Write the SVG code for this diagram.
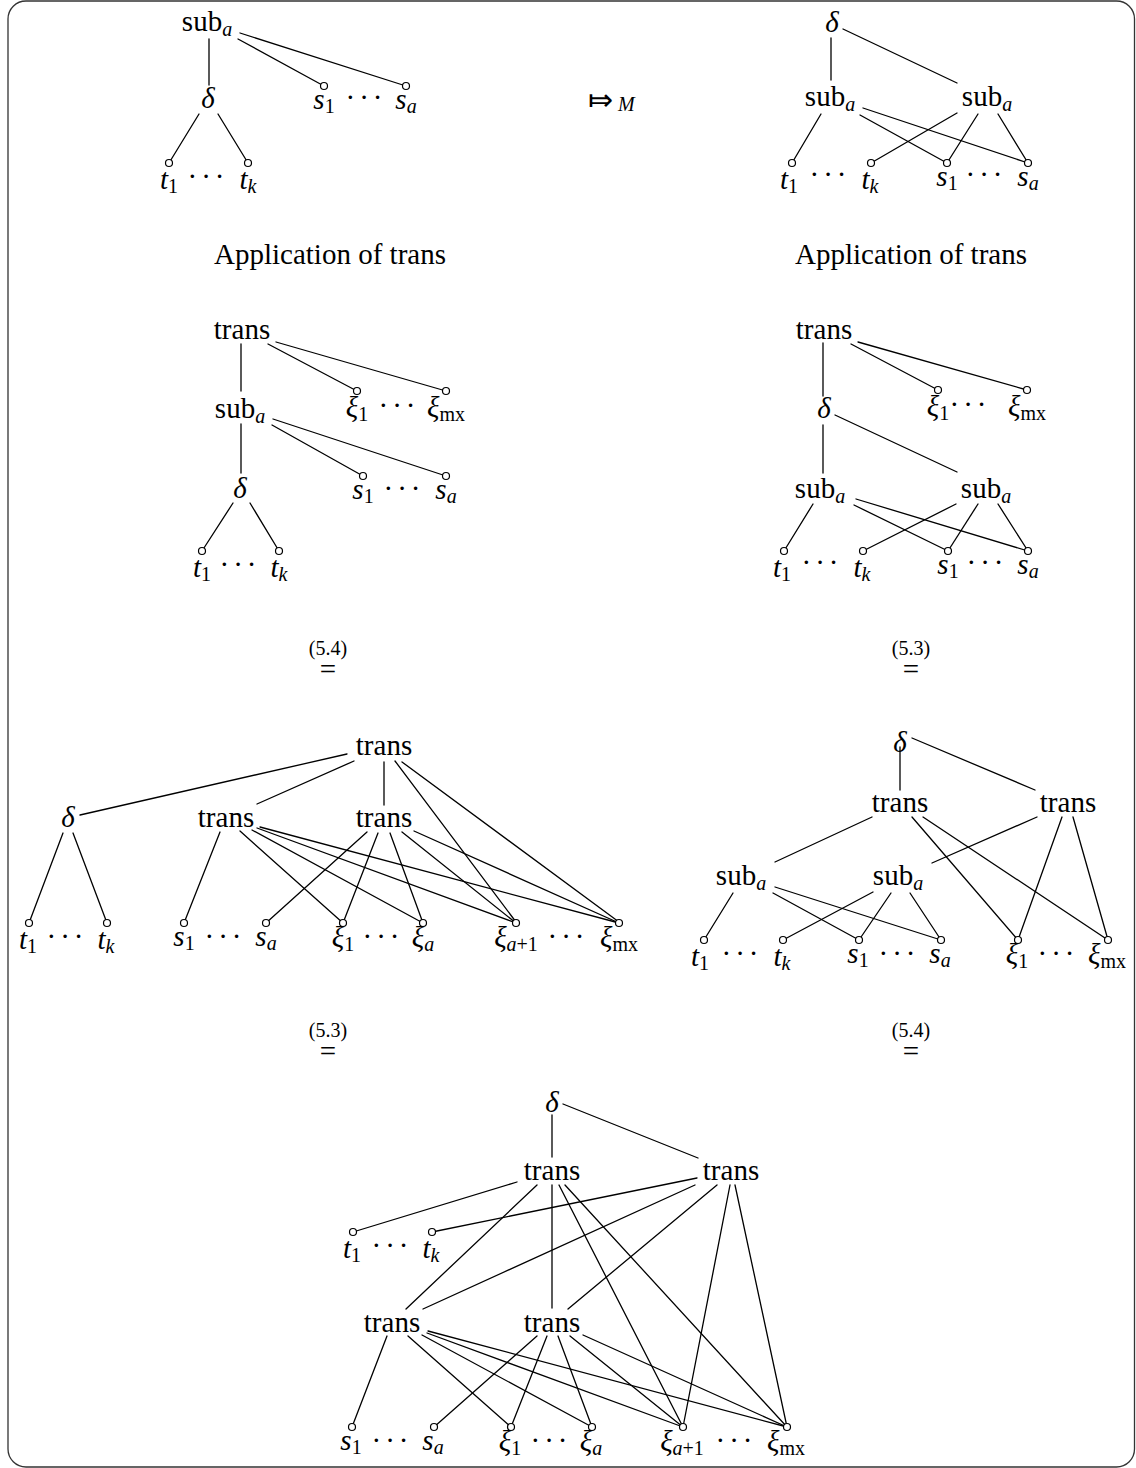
<svg xmlns="http://www.w3.org/2000/svg" width="1136" height="1468" viewBox="0 0 1136 1468">
<style>
.ln{stroke:#000;stroke-width:1.3;fill:none;stroke-linecap:round}
.lf{fill:#fff;stroke:#000;stroke-width:1.2}
text{font-family:"Liberation Serif",serif;font-size:29px;fill:#000}
.m{text-anchor:middle}
.i{font-style:italic}
.s{font-size:20px}
.d{text-anchor:middle;letter-spacing:4px}
.ref{font-size:20px;text-anchor:middle}
</style>
<rect x="8" y="1" width="1126.5" height="1466" rx="18" fill="#fff" stroke="#333" stroke-width="1.3"/>

<g id="connectors">
<!-- tree 1 -->
<line class="ln" x1="209" y1="39" x2="209" y2="85"/>
<line class="ln" x1="238" y1="39" x2="324" y2="86"/>
<line class="ln" x1="240" y1="33" x2="406" y2="86"/>
<line class="ln" x1="199" y1="114" x2="169" y2="163"/>
<line class="ln" x1="218" y1="114" x2="248" y2="163"/>
<!-- tree 2 -->
<line class="ln" x1="831" y1="38" x2="831" y2="80"/>
<line class="ln" x1="843" y1="29" x2="957" y2="83"/>
<line class="ln" x1="821" y1="114" x2="792" y2="163"/>
<line class="ln" x1="860" y1="115" x2="947" y2="163"/>
<line class="ln" x1="863" y1="108" x2="1028" y2="163"/>
<line class="ln" x1="957" y1="113" x2="871" y2="163"/>
<line class="ln" x1="978" y1="114" x2="947" y2="163"/>
<line class="ln" x1="998" y1="114" x2="1028" y2="163"/>
<!-- tree 3 -->
<line class="ln" x1="241" y1="344" x2="241" y2="391"/>
<line class="ln" x1="268" y1="344" x2="357" y2="391"/>
<line class="ln" x1="276" y1="342" x2="446" y2="391"/>
<line class="ln" x1="241" y1="424" x2="241" y2="473"/>
<line class="ln" x1="272" y1="425" x2="363" y2="476"/>
<line class="ln" x1="273" y1="419" x2="446" y2="476"/>
<line class="ln" x1="233" y1="503" x2="202" y2="551"/>
<line class="ln" x1="250" y1="503" x2="279" y2="551"/>
<!-- tree 4 -->
<line class="ln" x1="823" y1="343" x2="823" y2="396"/>
<line class="ln" x1="851" y1="344" x2="938" y2="390"/>
<line class="ln" x1="858" y1="342" x2="1027" y2="390"/>
<line class="ln" x1="823" y1="425" x2="823" y2="473"/>
<line class="ln" x1="835" y1="415" x2="957" y2="472"/>
<line class="ln" x1="813" y1="504" x2="784" y2="551"/>
<line class="ln" x1="854" y1="505" x2="948" y2="551"/>
<line class="ln" x1="856" y1="499" x2="1028" y2="551"/>
<line class="ln" x1="956" y1="504" x2="863" y2="551"/>
<line class="ln" x1="978" y1="504" x2="948" y2="551"/>
<line class="ln" x1="998" y1="504" x2="1028" y2="551"/>
<!-- tree 5 bottom-left -->
<line class="ln" x1="347" y1="754" x2="80" y2="815"/>
<line class="ln" x1="354" y1="761" x2="257" y2="804"/>
<line class="ln" x1="384" y1="762" x2="384" y2="805"/>
<line class="ln" x1="395" y1="761" x2="516" y2="922"/>
<line class="ln" x1="402" y1="762" x2="619" y2="922"/>
<line class="ln" x1="63" y1="833" x2="29" y2="923"/>
<line class="ln" x1="73" y1="833" x2="107" y2="923"/>
<line class="ln" x1="220" y1="832" x2="184" y2="923"/>
<line class="ln" x1="240" y1="831" x2="343" y2="923"/>
<line class="ln" x1="252" y1="830" x2="423" y2="923"/>
<line class="ln" x1="257" y1="828" x2="516" y2="923"/>
<line class="ln" x1="260" y1="827" x2="619" y2="923"/>
<line class="ln" x1="367" y1="832" x2="266" y2="923"/>
<line class="ln" x1="378" y1="833" x2="343" y2="923"/>
<line class="ln" x1="390" y1="833" x2="423" y2="923"/>
<line class="ln" x1="402" y1="832" x2="516" y2="923"/>
<line class="ln" x1="414" y1="831" x2="619" y2="923"/>
<!-- tree 6 bottom-right -->
<line class="ln" x1="900" y1="747" x2="900" y2="790"/>
<line class="ln" x1="912" y1="738" x2="1035" y2="790"/>
<line class="ln" x1="872" y1="817" x2="775" y2="862"/>
<line class="ln" x1="912" y1="817" x2="1018" y2="940"/>
<line class="ln" x1="923" y1="817" x2="1108" y2="940"/>
<line class="ln" x1="1037" y1="817" x2="932" y2="863"/>
<line class="ln" x1="1062" y1="817" x2="1018" y2="940"/>
<line class="ln" x1="1073" y1="817" x2="1108" y2="940"/>
<line class="ln" x1="733" y1="893" x2="704" y2="940"/>
<line class="ln" x1="773" y1="893" x2="859" y2="940"/>
<line class="ln" x1="775" y1="887" x2="941" y2="940"/>
<line class="ln" x1="873" y1="892" x2="783" y2="940"/>
<line class="ln" x1="891" y1="893" x2="859" y2="940"/>
<line class="ln" x1="910" y1="893" x2="941" y2="940"/>
<!-- tree 7 bottom -->
<line class="ln" x1="552" y1="1115" x2="552" y2="1157"/>
<line class="ln" x1="563" y1="1104" x2="698" y2="1158"/>
<line class="ln" x1="517" y1="1182" x2="353" y2="1232"/>
<line class="ln" x1="697" y1="1178" x2="432" y2="1232"/>
<line class="ln" x1="537" y1="1185" x2="406" y2="1309"/>
<line class="ln" x1="552" y1="1185" x2="552" y2="1308"/>
<line class="ln" x1="695" y1="1185" x2="423" y2="1309"/>
<line class="ln" x1="717" y1="1185" x2="568" y2="1309"/>
<line class="ln" x1="559" y1="1185" x2="683" y2="1427"/>
<line class="ln" x1="565" y1="1185" x2="787" y2="1427"/>
<line class="ln" x1="730" y1="1185" x2="683" y2="1427"/>
<line class="ln" x1="735" y1="1185" x2="787" y2="1427"/>
<line class="ln" x1="387" y1="1336" x2="352" y2="1427"/>
<line class="ln" x1="408" y1="1336" x2="511" y2="1427"/>
<line class="ln" x1="422" y1="1335" x2="592" y2="1427"/>
<line class="ln" x1="427" y1="1333" x2="683" y2="1427"/>
<line class="ln" x1="428" y1="1331" x2="787" y2="1427"/>
<line class="ln" x1="537" y1="1336" x2="434" y2="1427"/>
<line class="ln" x1="547" y1="1336" x2="511" y2="1427"/>
<line class="ln" x1="558" y1="1336" x2="592" y2="1427"/>
<line class="ln" x1="570" y1="1336" x2="683" y2="1427"/>
<line class="ln" x1="583" y1="1335" x2="787" y2="1427"/>
</g>

<!-- ===== Tree 1 ===== -->
<g id="t1-sub"><text class="m" x="207" y="31">sub<tspan class="s i" dy="5">a</tspan></text></g>
<g id="t1-delta"><text class="m i" x="208" y="108">δ</text></g>
<g id="t1-leaf-t1"><circle class="lf" cx="169" cy="163" r="3.5"/><text class="m" x="169" y="189"><tspan class="i">t</tspan><tspan class="s" dy="4">1</tspan></text></g>
<g id="t1-leaf-tk"><circle class="lf" cx="248" cy="163" r="3.5"/><text class="m" x="248" y="189"><tspan class="i">t</tspan><tspan class="s i" dy="4">k</tspan></text></g>
<g id="t1-leaf-s1"><circle class="lf" cx="324" cy="86" r="3.5"/><text class="m" x="324" y="109"><tspan class="i">s</tspan><tspan class="s" dy="4">1</tspan></text></g>
<g id="t1-leaf-sa"><circle class="lf" cx="406" cy="86" r="3.5"/><text class="m" x="406" y="109"><tspan class="i">s</tspan><tspan class="s i" dy="4">a</tspan></text></g>
<text class="d" x="208" y="186">···</text>
<text class="d" x="366" y="107">···</text>

<!-- arrow -->
<g id="arrow"><text x="588" y="110" style="font-family:'DejaVu Sans',sans-serif;font-size:30px">⤇</text><text class="s i" x="618" y="111">M</text></g>

<!-- ===== Tree 2 ===== -->
<g id="t2-delta"><text class="m i" x="832" y="32">δ</text></g>
<g id="t2-sub-l"><text class="m" x="830" y="106">sub<tspan class="s i" dy="5">a</tspan></text></g>
<g id="t2-sub-r"><text class="m" x="987" y="106">sub<tspan class="s i" dy="5">a</tspan></text></g>
<g id="t2-leaf-t1"><circle class="lf" cx="792" cy="163" r="3.5"/><text class="m" x="789" y="189"><tspan class="i">t</tspan><tspan class="s" dy="4">1</tspan></text></g>
<g id="t2-leaf-tk"><circle class="lf" cx="871" cy="163" r="3.5"/><text class="m" x="870" y="189"><tspan class="i">t</tspan><tspan class="s i" dy="4">k</tspan></text></g>
<g id="t2-leaf-s1"><circle class="lf" cx="947" cy="163" r="3.5"/><text class="m" x="947" y="186"><tspan class="i">s</tspan><tspan class="s" dy="4">1</tspan></text></g>
<g id="t2-leaf-sa"><circle class="lf" cx="1028" cy="163" r="3.5"/><text class="m" x="1028" y="186"><tspan class="i">s</tspan><tspan class="s i" dy="4">a</tspan></text></g>
<text class="d" x="830" y="184">···</text>
<text class="d" x="986" y="184">···</text>

<g id="cap-l"><text class="m" x="330" y="264">Application of trans</text></g>
<g id="cap-r"><text class="m" x="911" y="264">Application of trans</text></g>

<!-- ===== Tree 3 ===== -->
<g id="t3-trans"><text class="m" x="242" y="339">trans</text></g>
<g id="t3-sub"><text class="m" x="240" y="418">sub<tspan class="s i" dy="5">a</tspan></text></g>
<g id="t3-delta"><text class="m i" x="240" y="498">δ</text></g>
<g id="t3-leaf-x1"><circle class="lf" cx="357" cy="391" r="3.5"/><text class="m" x="357" y="417"><tspan class="i">ξ</tspan><tspan class="s" dy="4">1</tspan></text></g>
<g id="t3-leaf-xmx"><circle class="lf" cx="446" cy="391" r="3.5"/><text class="m" x="446" y="417"><tspan class="i">ξ</tspan><tspan class="s" dy="4">mx</tspan></text></g>
<g id="t3-leaf-s1"><circle class="lf" cx="363" cy="476" r="3.5"/><text class="m" x="363" y="499"><tspan class="i">s</tspan><tspan class="s" dy="4">1</tspan></text></g>
<g id="t3-leaf-sa"><circle class="lf" cx="446" cy="476" r="3.5"/><text class="m" x="446" y="499"><tspan class="i">s</tspan><tspan class="s i" dy="4">a</tspan></text></g>
<g id="t3-leaf-t1"><circle class="lf" cx="202" cy="551" r="3.5"/><text class="m" x="202" y="577"><tspan class="i">t</tspan><tspan class="s" dy="4">1</tspan></text></g>
<g id="t3-leaf-tk"><circle class="lf" cx="279" cy="551" r="3.5"/><text class="m" x="279" y="577"><tspan class="i">t</tspan><tspan class="s i" dy="4">k</tspan></text></g>
<text class="d" x="399" y="415">···</text>
<text class="d" x="404" y="498">···</text>
<text class="d" x="240" y="574">···</text>

<!-- ===== Tree 4 ===== -->
<g id="t4-trans"><text class="m" x="824" y="339">trans</text></g>
<g id="t4-delta"><text class="m i" x="824" y="418">δ</text></g>
<g id="t4-sub-l"><text class="m" x="820" y="498">sub<tspan class="s i" dy="5">a</tspan></text></g>
<g id="t4-sub-r"><text class="m" x="986" y="498">sub<tspan class="s i" dy="5">a</tspan></text></g>
<g id="t4-leaf-x1"><circle class="lf" cx="938" cy="390" r="3.5"/><text class="m" x="938" y="416"><tspan class="i">ξ</tspan><tspan class="s" dy="4">1</tspan></text></g>
<g id="t4-leaf-xmx"><circle class="lf" cx="1027" cy="390" r="3.5"/><text class="m" x="1027" y="416"><tspan class="i">ξ</tspan><tspan class="s" dy="4">mx</tspan></text></g>
<g id="t4-leaf-t1"><circle class="lf" cx="784" cy="551" r="3.5"/><text class="m" x="782" y="577"><tspan class="i">t</tspan><tspan class="s" dy="4">1</tspan></text></g>
<g id="t4-leaf-tk"><circle class="lf" cx="863" cy="551" r="3.5"/><text class="m" x="862" y="577"><tspan class="i">t</tspan><tspan class="s i" dy="4">k</tspan></text></g>
<g id="t4-leaf-s1"><circle class="lf" cx="948" cy="551" r="3.5"/><text class="m" x="948" y="574"><tspan class="i">s</tspan><tspan class="s" dy="4">1</tspan></text></g>
<g id="t4-leaf-sa"><circle class="lf" cx="1028" cy="551" r="3.5"/><text class="m" x="1028" y="574"><tspan class="i">s</tspan><tspan class="s i" dy="4">a</tspan></text></g>
<text class="d" x="970" y="414">···</text>
<text class="d" x="822" y="572">···</text>
<text class="d" x="987" y="572">···</text>

<!-- equals with refs -->
<g id="eq1"><text class="ref" x="328" y="655">(5.4)</text><text class="m" x="328" y="679">=</text></g>
<g id="eq2"><text class="ref" x="911" y="655">(5.3)</text><text class="m" x="911" y="679">=</text></g>
<g id="eq3"><text class="ref" x="328" y="1037">(5.3)</text><text class="m" x="328" y="1061">=</text></g>
<g id="eq4"><text class="ref" x="911" y="1037">(5.4)</text><text class="m" x="911" y="1061">=</text></g>

<!-- ===== Tree 5 ===== -->
<g id="t5-trans-top"><text class="m" x="384" y="755">trans</text></g>
<g id="t5-delta"><text class="m i" x="68" y="827">δ</text></g>
<g id="t5-trans-l"><text class="m" x="226" y="827">trans</text></g>
<g id="t5-trans-m"><text class="m" x="384" y="827">trans</text></g>
<g id="t5-leaf-t1"><circle class="lf" cx="29" cy="923" r="3.5"/><text class="m" x="28" y="949"><tspan class="i">t</tspan><tspan class="s" dy="4">1</tspan></text></g>
<g id="t5-leaf-tk"><circle class="lf" cx="107" cy="923" r="3.5"/><text class="m" x="106" y="949"><tspan class="i">t</tspan><tspan class="s i" dy="4">k</tspan></text></g>
<g id="t5-leaf-s1"><circle class="lf" cx="184" cy="923" r="3.5"/><text class="m" x="184" y="946"><tspan class="i">s</tspan><tspan class="s" dy="4">1</tspan></text></g>
<g id="t5-leaf-sa"><circle class="lf" cx="266" cy="923" r="3.5"/><text class="m" x="266" y="946"><tspan class="i">s</tspan><tspan class="s i" dy="4">a</tspan></text></g>
<g id="t5-leaf-x1"><circle class="lf" cx="343" cy="923" r="3.5"/><text class="m" x="343" y="947"><tspan class="i">ξ</tspan><tspan class="s" dy="4">1</tspan></text></g>
<g id="t5-leaf-xa"><circle class="lf" cx="423" cy="923" r="3.5"/><text class="m" x="423" y="947"><tspan class="i">ξ</tspan><tspan class="s i" dy="4">a</tspan></text></g>
<g id="t5-leaf-xa1"><circle class="lf" cx="516" cy="923" r="3.5"/><text class="m" x="516" y="947"><tspan class="i">ξ</tspan><tspan class="s" dy="4"><tspan class="i">a</tspan>+1</tspan></text></g>
<g id="t5-leaf-xmx"><circle class="lf" cx="619" cy="923" r="3.5"/><text class="m" x="619" y="947"><tspan class="i">ξ</tspan><tspan class="s" dy="4">mx</tspan></text></g>
<text class="d" x="67" y="946">···</text>
<text class="d" x="225" y="946">···</text>
<text class="d" x="383" y="946">···</text>
<text class="d" x="568" y="946">···</text>

<!-- ===== Tree 6 ===== -->
<g id="t6-delta"><text class="m i" x="900" y="752">δ</text></g>
<g id="t6-trans-l"><text class="m" x="900" y="812">trans</text></g>
<g id="t6-trans-r"><text class="m" x="1068" y="812">trans</text></g>
<g id="t6-sub-l"><text class="m" x="741" y="885">sub<tspan class="s i" dy="5">a</tspan></text></g>
<g id="t6-sub-m"><text class="m" x="898" y="885">sub<tspan class="s i" dy="5">a</tspan></text></g>
<g id="t6-leaf-t1"><circle class="lf" cx="704" cy="940" r="3.5"/><text class="m" x="700" y="966"><tspan class="i">t</tspan><tspan class="s" dy="4">1</tspan></text></g>
<g id="t6-leaf-tk"><circle class="lf" cx="783" cy="940" r="3.5"/><text class="m" x="782" y="966"><tspan class="i">t</tspan><tspan class="s i" dy="4">k</tspan></text></g>
<g id="t6-leaf-s1"><circle class="lf" cx="859" cy="940" r="3.5"/><text class="m" x="858" y="963"><tspan class="i">s</tspan><tspan class="s" dy="4">1</tspan></text></g>
<g id="t6-leaf-sa"><circle class="lf" cx="941" cy="940" r="3.5"/><text class="m" x="940" y="963"><tspan class="i">s</tspan><tspan class="s i" dy="4">a</tspan></text></g>
<g id="t6-leaf-x1"><circle class="lf" cx="1018" cy="940" r="3.5"/><text class="m" x="1017" y="964"><tspan class="i">ξ</tspan><tspan class="s" dy="4">1</tspan></text></g>
<g id="t6-leaf-xmx"><circle class="lf" cx="1108" cy="940" r="3.5"/><text class="m" x="1107" y="964"><tspan class="i">ξ</tspan><tspan class="s" dy="4">mx</tspan></text></g>
<text class="d" x="742" y="963">···</text>
<text class="d" x="899" y="963">···</text>
<text class="d" x="1058" y="963">···</text>

<!-- ===== Tree 7 ===== -->
<g id="t7-delta"><text class="m i" x="552" y="1112">δ</text></g>
<g id="t7-trans-tl"><text class="m" x="552" y="1180">trans</text></g>
<g id="t7-trans-tr"><text class="m" x="731" y="1180">trans</text></g>
<g id="t7-trans-bl"><text class="m" x="392" y="1332">trans</text></g>
<g id="t7-trans-bm"><text class="m" x="552" y="1332">trans</text></g>
<g id="t7-leaf-t1"><circle class="lf" cx="353" cy="1232" r="3.5"/><text class="m" x="352" y="1258"><tspan class="i">t</tspan><tspan class="s" dy="4">1</tspan></text></g>
<g id="t7-leaf-tk"><circle class="lf" cx="432" cy="1232" r="3.5"/><text class="m" x="431" y="1258"><tspan class="i">t</tspan><tspan class="s i" dy="4">k</tspan></text></g>
<g id="t7-leaf-s1"><circle class="lf" cx="352" cy="1427" r="3.5"/><text class="m" x="351" y="1450"><tspan class="i">s</tspan><tspan class="s" dy="4">1</tspan></text></g>
<g id="t7-leaf-sa"><circle class="lf" cx="434" cy="1427" r="3.5"/><text class="m" x="433" y="1450"><tspan class="i">s</tspan><tspan class="s i" dy="4">a</tspan></text></g>
<g id="t7-leaf-x1"><circle class="lf" cx="511" cy="1427" r="3.5"/><text class="m" x="510" y="1451"><tspan class="i">ξ</tspan><tspan class="s" dy="4">1</tspan></text></g>
<g id="t7-leaf-xa"><circle class="lf" cx="592" cy="1427" r="3.5"/><text class="m" x="591" y="1451"><tspan class="i">ξ</tspan><tspan class="s i" dy="4">a</tspan></text></g>
<g id="t7-leaf-xa1"><circle class="lf" cx="683" cy="1427" r="3.5"/><text class="m" x="682" y="1451"><tspan class="i">ξ</tspan><tspan class="s" dy="4"><tspan class="i">a</tspan>+1</tspan></text></g>
<g id="t7-leaf-xmx"><circle class="lf" cx="787" cy="1427" r="3.5"/><text class="m" x="786" y="1451"><tspan class="i">ξ</tspan><tspan class="s" dy="4">mx</tspan></text></g>
<text class="d" x="392" y="1255">···</text>
<text class="d" x="392" y="1450">···</text>
<text class="d" x="551" y="1450">···</text>
<text class="d" x="736" y="1450">···</text>
</svg>
